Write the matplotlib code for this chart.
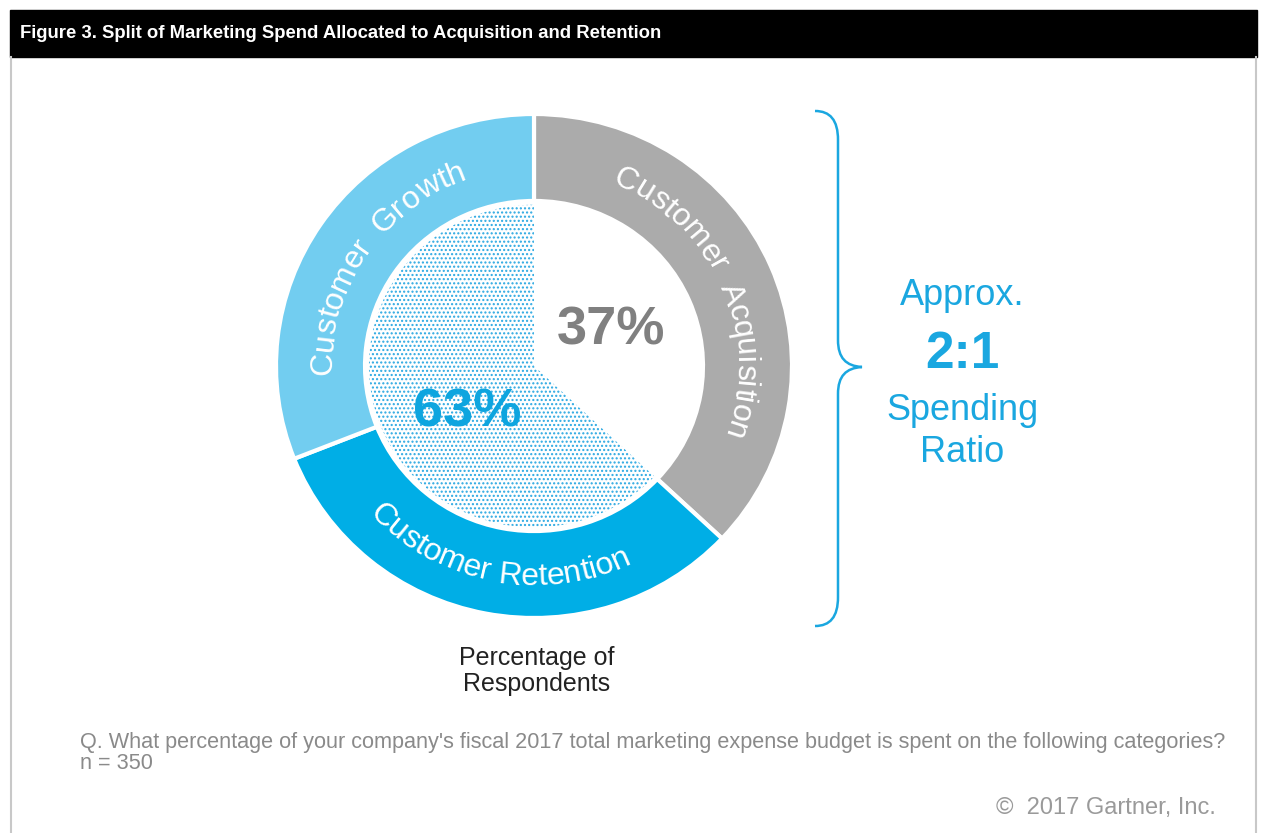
import matplotlib
matplotlib.use('Agg')
import matplotlib.pyplot as plt
import numpy as np
from matplotlib.path import Path
from matplotlib.patches import PathPatch, Rectangle
from matplotlib import font_manager

W, H = 1264, 833

title = "Figure 3. Split of Marketing Spend Allocated to Acquisition and Retention"
segments = ["Customer Acquisition", "Customer Retention", "Customer Growth"]
shares = [37, 32, 31]
ring_colors = ['#ababab', '#00aee6', '#72cdf0']
inner_labels = ["37%", "63%"]
inner_shares = [37, 63]
ratio_lines = ["Approx.", "2:1", "Spending", "Ratio"]
axis_note = ["Percentage of", "Respondents"]
question = ("Q. What percentage of your company's fiscal 2017 total marketing "
            "expense budget is spent on the following categories?")
sample = "n = 350"
credit = "\u00a9  2017 Gartner, Inc."

BLUE = '#1aa7e0'
SANS = 'Liberation Sans'
names = {f.name for f in font_manager.fontManager.ttflist}
NARROW = 'Liberation Sans Narrow' if 'Liberation Sans Narrow' in names else SANS

plt.rcParams['hatch.linewidth'] = 1.0

fig = plt.figure(figsize=(W / 100, H / 100), dpi=100)

# background layer in pixel coordinates (y down)
bg = fig.add_axes([0, 0, 1, 1])
bg.set_xlim(0, W)
bg.set_ylim(H, 0)
bg.axis('off')
bg.add_patch(Rectangle((10, 10), 1247, 47, color='black'))
bg.plot([11, 11], [57, H], color='#c8c8c8', lw=1.5)
bg.plot([1256, 1256], [57, H], color='#c8c8c8', lw=1.5)
bg.text(20, 33, title, color='white', fontsize=13.3, fontweight='bold',
        family=NARROW, va='center')

# donut
cx, cy, rx, ry = 534, 366, 258, 252
ax = fig.add_axes([(cx - rx) / W, (H - cy - ry) / H, 2 * rx / W, 2 * ry / H])
wedges, _ = ax.pie(shares, colors=ring_colors, startangle=90, counterclock=False,
                   radius=1, wedgeprops=dict(width=0.345, edgecolor='white', linewidth=3))
inner, _ = ax.pie(inner_shares, colors=['white', 'white'], startangle=90,
                  counterclock=False, radius=0.64, wedgeprops=dict(linewidth=0))
inner[1].set_hatch('....')
inner[1].set_edgecolor('#2aa8e2')
inner[1].set_linewidth(0)
ax.set_aspect('auto')
ax.set_xlim(-1, 1)
ax.set_ylim(-1, 1)
ax.axis('off')

ax.text(0.30, 0.14, inner_labels[0], color='#808080', fontsize=39, fontweight='bold',
        family=SANS, ha='center', va='center')
ax.text(-0.26, -0.185, inner_labels[1], color='#0ea5df', fontsize=39, fontweight='bold',
        family=SANS, ha='center', va='center')


def arc_text(s, mid, r, clockwise, size=23, color='white', space=1.0):
    rend = fig.canvas.get_renderer()
    prop = font_manager.FontProperties(family=SANS, size=size)

    def w(t):
        return rend.get_text_width_height_descent(t, prop, ismath=False)[0]

    base = w('xx')
    widths = [(w('x' + c + 'x') - base) * (space if c == ' ' else 1) for c in s]
    rpx = r * 0.5 * (rx + ry)
    pos = -sum(widths) / 2
    for c, cw in zip(s, widths):
        off = (pos + cw / 2) / rpx
        th = np.radians(mid) + (-off if clockwise else off)
        rot = np.degrees(th) - 90 if clockwise else np.degrees(th) + 90
        ax.text(r * np.cos(th), r * np.sin(th), c, rotation=rot, rotation_mode='anchor',
                ha='center', va='baseline', fontsize=size, color=color, family=SANS)
        pos += cw


for wdg, name in zip(wedges, segments):
    mid = 0.5 * (wdg.theta1 + wdg.theta2)
    mid = (mid + 180) % 360 - 180
    if -150 < mid < -30:
        arc_text(name, mid, 0.87, clockwise=False)
    else:
        arc_text(name, mid, 0.785, clockwise=True, space=1.7)

# brace
verts = [(815, 111), (830, 111), (838, 120), (838, 140),
         (838, 340),
         (838, 358), (846, 366), (862, 367),
         (846, 368), (838, 376), (838, 394),
         (838, 597),
         (838, 617), (830, 626), (815, 626)]
codes = [Path.MOVETO, Path.CURVE4, Path.CURVE4, Path.CURVE4,
         Path.LINETO,
         Path.CURVE4, Path.CURVE4, Path.CURVE4,
         Path.CURVE4, Path.CURVE4, Path.CURVE4,
         Path.LINETO,
         Path.CURVE4, Path.CURVE4, Path.CURVE4]
bg.add_patch(PathPatch(Path(verts, codes), fill=False, edgecolor=BLUE, lw=1.8))

for txt, yb, fs, fw in zip(ratio_lines, [305, 368, 420, 462], [26, 37, 26, 26],
                           ['normal', 'bold', 'normal', 'normal']):
    bg.text(962, yb, txt, color=BLUE, fontsize=fs, fontweight=fw, family=SANS,
            ha='center', va='baseline')

for txt, yb in zip(axis_note, [665, 691]):
    bg.text(537, yb, txt, color='#222222', fontsize=18, family=SANS,
            ha='center', va='baseline')

bg.text(80, 748, question, color='#8a8a8a', fontsize=15.6, family=SANS, va='baseline')
bg.text(80, 769, sample, color='#8a8a8a', fontsize=15.6, family=SANS, va='baseline')
bg.text(1216, 814, credit, color='#9a9a9a', fontsize=17, family=SANS,
        ha='right', va='baseline')

fig.savefig('out.png', dpi=100, facecolor='white')
